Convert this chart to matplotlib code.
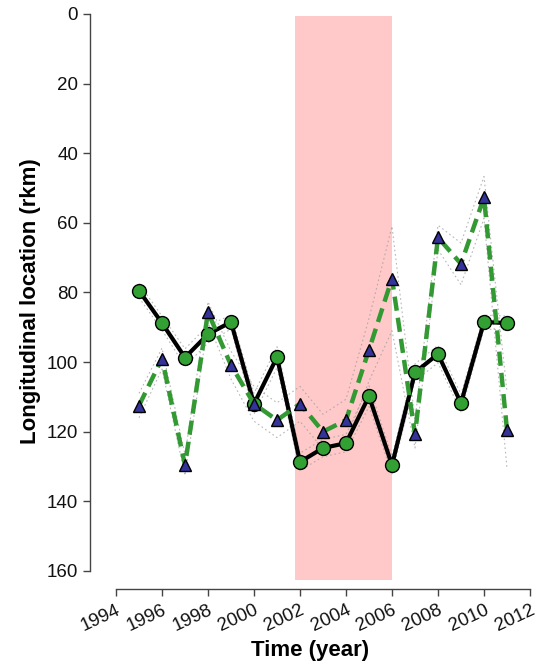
import matplotlib
matplotlib.use("Agg")
import matplotlib.pyplot as plt
import numpy as np

plt.rcParams['font.family'] = ['Liberation Sans', 'DejaVu Sans']

# Survey years
years = [1995, 1996, 1997, 1998, 1999, 2000, 2001, 2002, 2003,
         2004, 2005, 2006, 2007, 2008, 2009, 2010, 2011]

# Mean longitudinal location (rkm), circle series
loc_circle = [79.5, 88.8, 98.7, 92.0, 88.5, 112.0, 98.6, 128.7, 124.7,
              123.3, 109.8, 129.6, 103.0, 97.7, 111.8, 88.5, 88.8]
err_circle = [2.0, 2.0, 2.5, 2.5, 2.0, 3.0, 3.0, 2.5, 2.5,
              2.5, 3.0, 2.5, 2.5, 2.5, 2.5, 2.0, 2.0]

# Mean longitudinal location (rkm), triangle series
loc_tri = [112.5, 99.0, 129.6, 85.7, 100.9, 112.0, 116.7, 112.0, 120.0,
           116.7, 96.5, 76.0, 120.7, 64.2, 71.8, 52.7, 119.5]
err_tri = [3.5, 3.0, 3.0, 3.0, 4.0, 5.0, 5.0, 5.0, 5.0,
           6.0, 9.0, 15.0, 4.0, 3.5, 6.0, 6.0, 11.0]

# Shaded period
shade_start, shade_end = 2001.8, 2006.0
shade_top, shade_bottom = 0.5, 162.5

x_ticks = list(range(1994, 2013, 2))
y_ticks = list(range(0, 161, 20))

fig = plt.figure(figsize=(5.38, 6.62), dpi=100)
ax = fig.add_axes([0.1673, 0.1103, 0.8178, 0.8686])

ax.fill_between([shade_start, shade_end], shade_top, shade_bottom,
                color='#ffc9c9', linewidth=0, zorder=0)

yrs = np.array(years)
lc, ec = np.array(loc_circle), np.array(err_circle)
lt, et = np.array(loc_tri), np.array(err_tri)

band_style = dict(color='#9a9a9a', lw=0.8, linestyle=(0, (1.5, 2.5)), alpha=0.7, zorder=1)
for sign in (-1, 1):
    ax.plot(yrs, lc + sign * ec, **band_style)
    ax.plot(yrs, lt + sign * et, **band_style)

ax.plot(yrs, lc, color='black', lw=3.0, marker='o', markersize=10,
        markerfacecolor='#33a033', markeredgecolor='black', markeredgewidth=1.0,
        zorder=3)
ax.plot(yrs, lt, color='#339933', lw=3.2, dashes=(3.2, 1.6), marker='^',
        markersize=8.5, markerfacecolor='#33339a', markeredgecolor='black',
        markeredgewidth=1.0, zorder=4)

ax.set_xlim(1992.87, 2012.0)
ax.set_ylim(165.2, 0)

for side in ('top', 'right'):
    ax.spines[side].set_visible(False)
ax.spines['left'].set_bounds(0, 160)
ax.spines['bottom'].set_bounds(1994, 2012)
for side in ('left', 'bottom'):
    ax.spines[side].set_color('#444444')
    ax.spines[side].set_linewidth(1.0)

ax.set_xticks(x_ticks)
ax.set_yticks(y_ticks)
ax.set_xticklabels([str(t) for t in x_ticks], rotation=25, ha='right',
                   rotation_mode='anchor')
ax.tick_params(axis='both', direction='out', length=5, width=1.0,
               color='#444444', labelsize=13.5, labelcolor='#111111')
ax.tick_params(axis='x', pad=4)

ax.set_xlabel('Time (year)', fontsize=16, fontweight='bold', labelpad=4)
ax.set_ylabel('Longitudinal location (rkm)', fontsize=16, fontweight='bold',
              labelpad=4)

fig.savefig('out.png', dpi=100)
